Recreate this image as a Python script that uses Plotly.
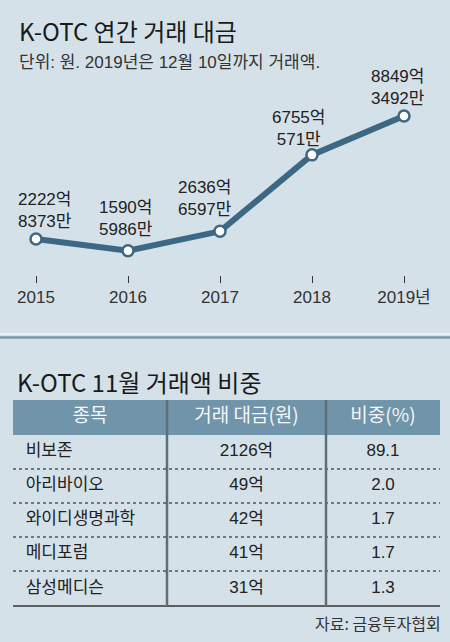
import plotly.graph_objects as go

# ---------------- data ----------------
years = ["2015", "2016", "2017", "2018", "2019년"]
eok = [2222, 1590, 2636, 6755, 8849]      # 억 part
man = [8373, 5986, 6597, 571, 3492]       # 만 part
values = [e + m / 10000 for e, m in zip(eok, man)]   # in 억 원

stocks = ["비보존", "아리바이오", "와이디생명과학", "메디포럼", "삼성메디슨"]
amounts = ["2126억", "49억", "42억", "41억", "31억"]
shares = ["89.1", "2.0", "1.7", "1.7", "1.3"]
headers = ["종목", "거래 대금(원)", "비중(%)"]

# ---------------- style ----------------
W, H = 450, 642
BG = "#d5e1e9"
LINE = "#3d6883"
HEAD = "#7094aa"
TXT = "#222222"
FONT = "Noto Sans CJK KR, Noto Sans, sans-serif"
NUMFONT = "Liberation Sans, Noto Sans CJK KR, sans-serif"

def py(p):  # pixel y -> paper y
    return 1 - p / H

def px(p):  # pixel x -> paper x
    return p / W

xs = list(range(len(years)))

fig = go.Figure()
fig.add_trace(go.Scatter(
    x=xs, y=values, mode="lines+markers",
    line=dict(color=LINE, width=6),
    marker=dict(size=11, color="white", line=dict(color=LINE, width=2.5)),
    hoverinfo="skip", showlegend=False,
))

# labels above points
dx = [9, -2, -15, -14, -6]
dy = [6, 10, 10, 4, 6]
for i in xs:
    fig.add_annotation(x=xs[i], y=values[i], xref="x", yref="y",
                       text=f"{eok[i]}억<br>{man[i]}만", showarrow=False,
                       xshift=dx[i], yshift=dy[i], yanchor="bottom",
                       font=dict(family=NUMFONT, size=17, color=TXT))

# table
fig.add_trace(go.Table(
    domain=dict(x=[px(13), px(440)], y=[py(615), py(400)]),
    columnwidth=[154, 159, 114],
    header=dict(values=headers, fill_color=HEAD, height=35, align="center",
                line=dict(color=HEAD, width=0),
                font=dict(family=FONT, size=19, color="#f4f7f9")),
    cells=dict(values=[[" " + s for s in stocks], amounts, shares],
               fill_color=BG, height=34.2,
               align=["left", "center", "center"],
               line=dict(color=BG, width=0),
               font=dict(family=NUMFONT, size=17, color=TXT)),
))

shapes = []
# separator between sections
shapes.append(dict(type="line", xref="paper", yref="paper", x0=0, x1=1,
                   y0=py(334), y1=py(334), line=dict(color="#f2f6f8", width=1.5)))
shapes.append(dict(type="line", xref="paper", yref="paper", x0=0, x1=1,
                   y0=py(337.5), y1=py(337.5), line=dict(color="#7b98aa", width=2.5)))
# dotted row separators
for r in [469, 503, 537, 571]:
    shapes.append(dict(type="line", xref="paper", yref="paper", x0=px(13), x1=px(440),
                       y0=py(r), y1=py(r), line=dict(color="#555555", width=1.5, dash="dot")))
# bottom solid line
shapes.append(dict(type="line", xref="paper", yref="paper", x0=px(13), x1=px(440),
                   y0=py(606), y1=py(606), line=dict(color="#333333", width=1.5)))
# vertical dividers
for c in [167, 326]:
    shapes.append(dict(type="line", xref="paper", yref="paper", x0=px(c), x1=px(c),
                       y0=py(400), y1=py(606), line=dict(color="#5f6f7a", width=2.5)))

# texts
fig.add_annotation(x=px(17), y=py(30), xref="paper", yref="paper", xanchor="left",
                   yanchor="middle", showarrow=False, text="K-OTC 연간 거래 대금",
                   font=dict(family=FONT, size=24, color="#1a1a1a"))
fig.add_annotation(x=px(17), y=py(63), xref="paper", yref="paper", xanchor="left",
                   yanchor="middle", showarrow=False,
                   text="단위: 원. 2019년은 12월 10일까지 거래액.",
                   font=dict(family=NUMFONT, size=17, color="#333333"))
fig.add_annotation(x=px(15), y=py(382), xref="paper", yref="paper", xanchor="left",
                   yanchor="middle", showarrow=False, text="K-OTC 11월 거래액 비중",
                   font=dict(family=FONT, size=24, color="#1a1a1a"))
fig.add_annotation(x=px(443), y=py(623), xref="paper", yref="paper", xanchor="right",
                   yanchor="middle", showarrow=False, text="자료: 금융투자협회",
                   font=dict(family=FONT, size=16, color="#333333"))

fig.update_layout(
    width=W, height=H, margin=dict(l=0, r=0, t=0, b=0),
    paper_bgcolor=BG, plot_bgcolor=BG, shapes=shapes,
    xaxis=dict(domain=[0, 1], range=[-36 / 92, (W - 36) / 92],
               tickvals=xs, ticktext=years, ticks="outside", ticklen=7,
               tickcolor="#333333", tickwidth=1, showline=False, showgrid=False,
               zeroline=False, fixedrange=True,
               tickfont=dict(family=NUMFONT, size=17, color="#333333")),
    yaxis=dict(domain=[py(275), py(60)], range=[283.3, 11866.2],
               visible=False, fixedrange=True),
)

fig.write_html("out.html", config={"displayModeBar": False},
               post_script="document.body.style.margin='0';document.body.style.overflow='hidden';")
